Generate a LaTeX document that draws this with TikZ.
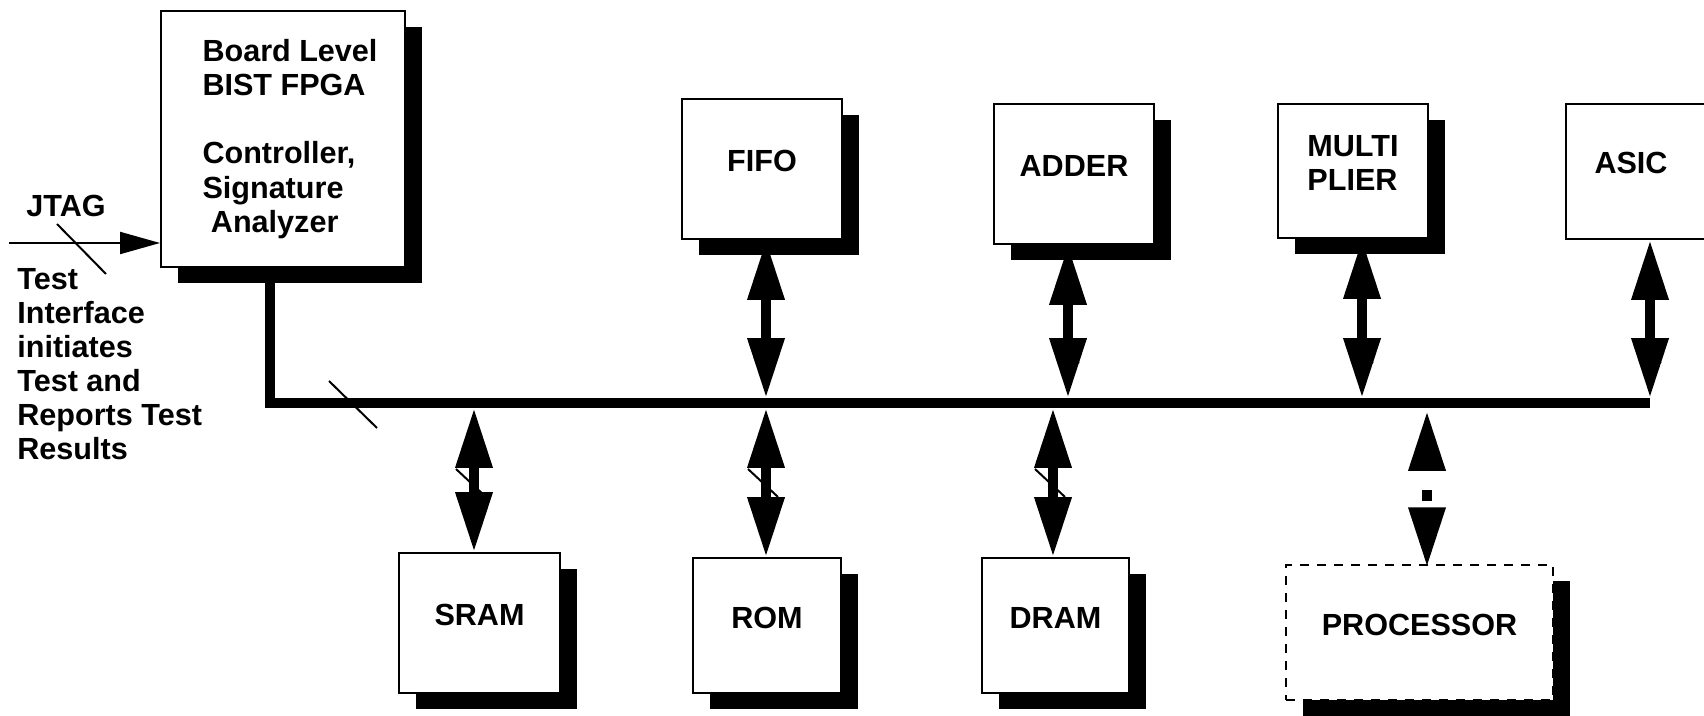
\documentclass[tikz,border=0pt]{standalone}
\usepackage{fontspec}
\setmainfont{Liberation Sans}
\usetikzlibrary{arrows.meta,shadows,calc}

\tikzset{
    chip/.style={rectangle,
        draw,
        line width=0.04cm,
        fill=white,
        inner sep=0pt,
        text depth=0.32cm,
        font=\fontsize{17.4}{19.4}\selectfont\bfseries},
    chipshadow/.style={chip,
        drop shadow={shadow xshift=0.34cm, shadow yshift=-0.32cm, fill=black, opacity=1}},
    dashedchip/.style={line width=0.03cm, dash pattern=on 0.18cm off 0.16cm},
    plain/.style={inner sep=0pt, align=left,
        font=\fontsize{17.4}{19.4}\selectfont\bfseries},
    bidir/.style={line width=0.2cm,
        {Triangle[length=1.2cm,width=0.7cm]}-{Triangle[length=1.2cm,width=0.7cm]}},
    busmark/.style={line width=0.04cm},
}

\begin{document}
\begin{tikzpicture}[x=0.02cm, y=-0.02cm]
        \useasboundingbox (0,0) rectangle (1704,716);
        \clip (0,0) rectangle (1704,716);

        \node[chipshadow, minimum width=4.88cm, minimum height=5.12cm] (FPGA) at (283,139) {};
        \node[plain] (FPGAtext) at ([xshift=0.14cm]FPGA.center)
            {Board Level\\BIST FPGA\\[19.4pt]Controller,\\Signature\\\ Analyzer};

        \node[chipshadow, minimum width=3.2cm, minimum height=2.8cm] (FIFO) at (762,169) {FIFO};
        \node[chipshadow, minimum width=3.2cm, minimum height=2.8cm] (ADDER) at (1074,174) {ADDER};
        \node[chipshadow, align=left, minimum width=3cm, minimum height=2.68cm] (MULT) at (1353,171) {MULTI\\PLIER};
        \node[chip, minimum width=3.2cm, minimum height=2.7cm] (ASIC) at (1646,171.5) {};
        \node[plain] (ASIClabel) at (1631,162.5) {ASIC};

        \node[chipshadow, minimum width=3.22cm, minimum height=2.8cm] (SRAM) at (479.5,623) {SRAM};
        \node[chipshadow, minimum width=2.96cm, minimum height=2.7cm] (ROM) at (767,625.5) {ROM};
        \node[chipshadow, minimum width=2.94cm, minimum height=2.7cm] (DRAM) at (1055.5,625.5) {DRAM};
        \node[chipshadow, dashedchip, minimum width=5.34cm, minimum height=2.7cm] (PROC) at (1419.5,632.5) {PROCESSOR};

        \node[plain, anchor=base west] (JTAG) at (26,217) {JTAG};
        \node[plain, anchor=north west] (TestIF) at (17,268)
            {Test\\Interface\\initiates\\Test and\\Reports Test\\Results};

        \coordinate (JTAGin) at (9,243);
        \draw[line width=0.04cm, -{Triangle[length=0.8cm,width=0.44cm]}] (JTAGin) -- (JTAGin -| FPGA.west);
        \draw[busmark] (57,224) -- (106,274);

        \coordinate (BUS) at (1650,403);
        \draw[line width=0.2cm] ([xshift=-0.26cm]FPGA.south) |- (BUS);
        \draw[busmark] (329,381) -- (377,428);

        \foreach \x in {1068,1362,1650}
            \draw[busmark] (\x-16,339) -- ++(27,24);
        \foreach \x in {474,766,1053}
            \draw[busmark] (\x-18,469) -- ++(30,28);

        \draw[bidir, shorten >=0.1cm] ($(FIFO.south)+(4,0)$) -- ($(FIFO.south |- BUS)+(4,0)$);
        \draw[bidir, shorten >=0.1cm] ($(ADDER.south)+(-6,0)$) -- ($(ADDER.south |- BUS)+(-6,0)$);
        \draw[bidir, shorten >=0.1cm] ($(MULT.south)+(9,0)$) -- ($(MULT.south |- BUS)+(9,0)$);
        \draw[bidir, shorten >=0.1cm] ($(ASIC.south)+(4,0)$) -- (BUS);

        \draw[bidir, shorten <=0.1cm] ($(SRAM.north |- BUS)+(-5.5,0)$) -- ($(SRAM.north)+(-5.5,0)$);
        \draw[bidir, shorten <=0.1cm] ($(ROM.north |- BUS)+(-1,0)$) -- ($(ROM.north)+(-1,0)$);
        \draw[bidir, shorten <=0.1cm] ($(DRAM.north |- BUS)+(-2.5,0)$) -- ($(DRAM.north)+(-2.5,0)$);
        \draw[bidir, dash pattern=on 0.22cm off 0.8cm, dash phase=0.58cm]
            ($(PROC.north |- BUS)+(7.5,8)$) -- ($(PROC.north)+(7.5,3)$);

\end{tikzpicture}
\end{document}
